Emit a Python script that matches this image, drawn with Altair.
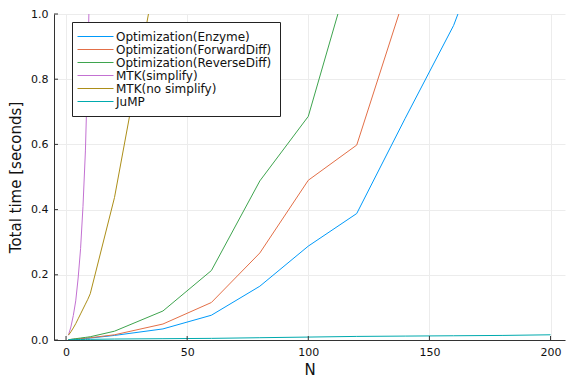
import altair as alt
import pandas as pd

N = [1, 2, 3, 4, 5, 6, 7, 8, 9, 10, 20, 40, 60, 80, 100, 120, 140, 160, 180, 200]

enzyme = [0.001, 0.0015, 0.002, 0.0025, 0.003, 0.0035, 0.004, 0.0045, 0.005, 0.006,
          0.014, 0.034, 0.076, 0.165, 0.288, 0.388, 0.68, 0.965, 1.36, None]
forwarddiff = [0.001, 0.0016, 0.0022, 0.003, 0.0036, 0.0043, 0.005, 0.0057, 0.0064, 0.007,
               0.016, 0.049, 0.115, 0.267, 0.49, 0.598, 1.06, None, None, None]
reversediff = [0.001, 0.002, 0.003, 0.004, 0.005, 0.006, 0.007, 0.008, 0.009, 0.010,
               0.027, 0.089, 0.213, 0.488, 0.686, 1.2, None, None, None, None]
mtk_simplify = [0.015, 0.04, 0.075, 0.12, 0.19, 0.28, 0.41, 0.58, 0.85, 1.2,
                None, None, None, None, None, None, None, None, None, None]
mtk_nosimplify = [0.015, 0.025, 0.037, 0.05, 0.065, 0.08, 0.095, 0.11, 0.125, 0.142,
                  0.437, 1.24, None, None, None, None, None, None, None, None]
jump = [0.001, 0.001, 0.0012, 0.0013, 0.0014, 0.0015, 0.0016, 0.0017, 0.0018, 0.002,
        0.003, 0.004, 0.005, 0.007, 0.009, 0.011, 0.012, 0.013, 0.014, 0.016]

series_names = ["Optimization(Enzyme)", "Optimization(ForwardDiff)", "Optimization(ReverseDiff)",
                "MTK(simplify)", "MTK(no simplify)", "JuMP"]
series_colors = ["#009AFA", "#E36F47", "#3EA44E", "#C371D2", "#AC8E18", "#00AAAE"]
series_values = [enzyme, forwarddiff, reversediff, mtk_simplify, mtk_nosimplify, jump]

x_ticks = [0, 50, 100, 150, 200]
y_ticks = [0.0, 0.2, 0.4, 0.6, 0.8, 1.0]

rows = []
for name, vals in zip(series_names, series_values):
    for n, v in zip(N, vals):
        if v is not None:
            rows.append({"N": n, "time": v, "series": name})
df = pd.DataFrame(rows)

FONT = "DejaVu Sans"
W, H = 511, 326

xscale = alt.Scale(domain=[-4.97, 205.97], nice=False, zero=False)
yscale = alt.Scale(domain=[0, 1], nice=False)

lines = alt.Chart(df).mark_line(strokeWidth=1, clip=True).encode(
    x=alt.X("N:Q", scale=xscale,
            axis=alt.Axis(values=x_ticks, title="N", format="d", grid=True)),
    y=alt.Y("time:Q", scale=yscale,
            axis=alt.Axis(values=y_ticks, title="Total time [seconds]", format=".1f", grid=True)),
    color=alt.Color("series:N", sort=series_names,
                    scale=alt.Scale(domain=series_names, range=series_colors),
                    legend=alt.Legend(title=None, orient="none", legendX=18, legendY=8,
                                      symbolType="M-1.5,0H4.5", symbolSize=144,
                                      symbolStrokeWidth=1, symbolFillColor="transparent",
                                      labelFontSize=12, labelLimit=400,
                                      labelFont=FONT, labelColor="#111111",
                                      fillColor="white",
                                      strokeColor="#222222", padding=8,
                                      rowPadding=0, labelOffset=23, cornerRadius=0)),
    detail="series:N",
)

xt = alt.Chart(pd.DataFrame({"N": x_ticks})).mark_rule(color="#333333", strokeWidth=1).encode(
    x=alt.X("N:Q", scale=xscale), y=alt.value(H), y2=alt.value(H - 4))
yt = alt.Chart(pd.DataFrame({"time": y_ticks})).mark_rule(color="#333333", strokeWidth=1).encode(
    y=alt.Y("time:Q", scale=yscale), x=alt.value(0), x2=alt.value(4))

chart = alt.layer(lines, xt, yt).properties(
    width=W, height=H,
    autosize=alt.AutoSizeParams(type="none"),
    padding={"left": 46, "top": 6, "right": 3, "bottom": 40},
).configure_view(stroke=None).configure_axis(
    labelFont=FONT, titleFont=FONT, labelFontSize=11, titleFontSize=15,
    titleFontWeight="normal", labelColor="#111111", titleColor="#111111",
    domainColor="#333333", domainWidth=1, tickSize=0, labelPadding=6,
    gridColor="#ececec", gridWidth=1,
).configure_axisY(titlePadding=7).configure_axisX(titlePadding=5)

chart.save("out.html", embed_options={"renderer": "svg", "actions": False})
